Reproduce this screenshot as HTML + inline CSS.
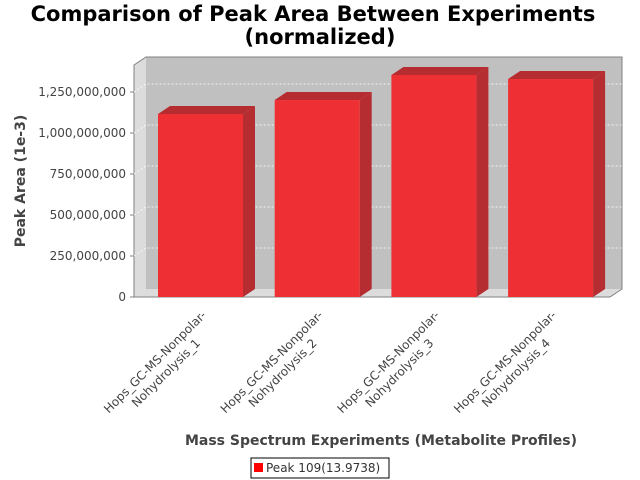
<!DOCTYPE html>
<html><head><meta charset="utf-8"><style>
html,body{margin:0;padding:0;background:#fff;}
svg{display:block;font-family:"DejaVu Sans","Liberation Sans",sans-serif;}
</style></head><body>
<svg id="chart" width="640" height="480" viewBox="0 0 640 480">
<text x="313" y="21" text-anchor="middle" font-size="21" font-weight="bold" fill="#000">Comparison of Peak Area Between Experiments</text>
<text x="320" y="44" text-anchor="middle" font-size="21" font-weight="bold" fill="#000">(normalized)</text>
<g id="plot"></g>
<text transform="translate(25,181) rotate(-90)" text-anchor="middle" font-size="14" font-weight="bold" fill="#444">Peak Area (1e-3)</text>
<text x="381" y="445" text-anchor="middle" font-size="14" font-weight="bold" fill="#444">Mass Spectrum Experiments (Metabolite Profiles)</text>
<g>
<rect x="251" y="458" width="138" height="20" fill="#fff" stroke="#000" stroke-width="1"/>
<rect x="254" y="463" width="9" height="9" fill="#ff0000"/>
<text x="266" y="472" font-size="12" fill="#333">Peak 109(13.9738)</text>
</g>
</svg>
<script>
const categories1 = ["Hops_GC-MS-Nonpolar-","Hops_GC-MS-Nonpolar-","Hops_GC-MS-Nonpolar-","Hops_GC-MS-Nonpolar-"];
const categories2 = ["Nohydrolysis_1","Nohydrolysis_2","Nohydrolysis_3","Nohydrolysis_4"];
const values = [1116000000, 1201000000, 1354000000, 1329000000];
const ticks = [0, 250000000, 500000000, 750000000, 1000000000, 1250000000];
const tickLabels = ["0","250,000,000","500,000,000","750,000,000","1,000,000,000","1,250,000,000"];
const yMax = 1414600000;

const NS = "http://www.w3.org/2000/svg";
const g = document.getElementById('plot');
const L = 134, R = 610, B = 297, T = 65, DX = 12, DY = 8;
function y(v){ return B - (v / yMax) * (B - T); }
function mk(tag, attrs, parent){ const e = document.createElementNS(NS, tag); for (const k in attrs) e.setAttribute(k, attrs[k]); (parent||g).appendChild(e); return e; }

let e;
e = mk('polygon', {points:`${L},${B} ${L},${T} ${L+DX},${T-DY} ${L+DX},${B-DY}`, fill:'#dcdcdc'});


e = mk('polygon', {points:`${L},${B} ${L+DX},${B-DY} ${R+DX},${B-DY} ${R},${B}`, fill:'#dcdcdc'});


e = mk('rect', {x:L+DX, y:T-DY, width:R-L, height:B-T, fill:'#c0c0c0'});


e = mk('polyline', {points:`${L},${B} ${L},${T} ${L+DX},${T-DY} ${R+DX},${T-DY} ${R+DX},${B-DY} ${R},${B} ${L},${B}`, fill:'none', stroke:'#808080', 'stroke-width':1});



ticks.forEach((t, i) => {
  const yy = y(t);
  if (t > 0) {
    const gl = mk('polyline', {points:`${L},${yy} ${L+DX},${yy-DY} ${R+DX},${yy-DY}`, fill:'none', stroke:'#ffffff', 'stroke-width':0.8, 'stroke-dasharray':'2,2'});
    
    
  }
  const tk = mk('line', {x1:L-4, x2:L, y1:yy, y2:yy, stroke:'#808080'});
  
  
  const tl = mk('text', {x:L-8, y:yy+4, 'text-anchor':'end', 'font-size':12, fill:'#444'});
  tl.textContent = tickLabels[i];
  
  
});

const step = 116.7, bw = 85, x0 = 158;
values.forEach((v, i) => {
  const bx = x0 + i * step, top = y(v);
  const grp = mk('g', {});
  
  
  mk('polygon', {points:`${bx},${top} ${bx+DX},${top-DY} ${bx+bw+DX},${top-DY} ${bx+bw},${top}`, fill:'#b52d30'}, grp);
  mk('polygon', {points:`${bx+bw},${top} ${bx+bw+DX},${top-DY} ${bx+bw+DX},${B-DY} ${bx+bw},${B}`, fill:'#b52d30'}, grp);
  mk('rect', {x:bx, y:top, width:bw, height:B-top, fill:'#ee2f33'}, grp);
  const cx = 155 + i * step;
  const t1 = mk('text', {transform:`translate(${cx},${362}) rotate(-45)`, 'text-anchor':'middle', 'font-size':12, fill:'#444', dy:4});
  t1.textContent = categories1[i];
  
  
  const t2 = mk('text', {transform:`translate(${cx+11},${373}) rotate(-45)`, 'text-anchor':'middle', 'font-size':12, fill:'#444', dy:4});
  t2.textContent = categories2[i];
  
  
});
</script>
</body></html>
